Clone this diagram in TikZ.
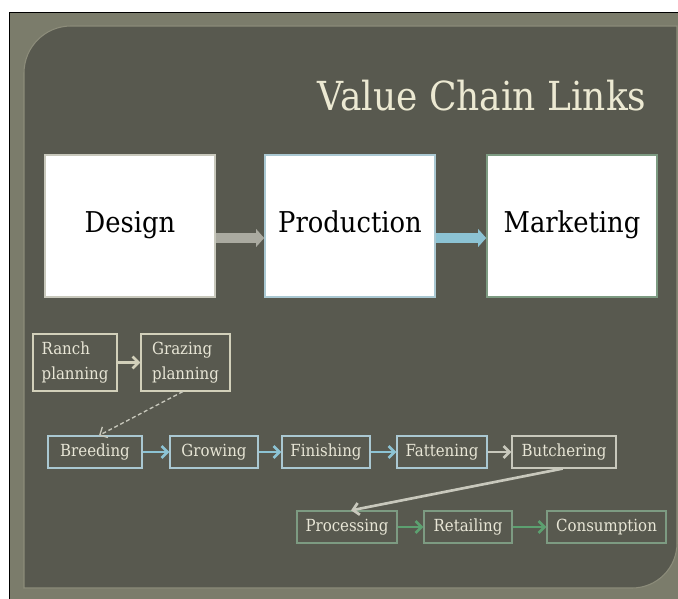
\documentclass[tikz,border=0pt]{standalone}
\usepackage{fontspec}
\setmainfont{DejaVu Serif Condensed}
\usetikzlibrary{arrows.meta}

\definecolor{framebg}{RGB}{123,124,107}
\definecolor{panelbg}{RGB}{88,89,79}
\definecolor{paneledge}{RGB}{140,140,122}
\definecolor{titlecol}{RGB}{236,233,210}
\definecolor{boxtext}{RGB}{232,230,214}
\definecolor{creamline}{RGB}{210,208,186}
\definecolor{blueline}{RGB}{170,200,210}
\definecolor{bluearrow}{RGB}{140,195,212}
\definecolor{greyline}{RGB}{200,200,188}
\definecolor{greenline}{RGB}{125,155,130}
\definecolor{greenarrow}{RGB}{92,160,112}

\tikzset{
  bigbox/.style={draw, fill=white, line width=1.2pt, minimum width=127.5pt, minimum height=106.5pt,
    inner sep=0pt, font=\fontsize{21.5}{24}\selectfont, text=black, text height=15pt, text depth=5pt},
  linkbox/.style={draw, line width=0.9pt, minimum height=24pt, inner sep=0pt,
    font=\fontsize{12.5}{19}\selectfont, text=boxtext, align=left},
  linkarrow/.style={line width=2pt, -{Straight Barb[length=4.5pt,width=9pt]}},
  blockarrow/.style={line width=7pt, -{Triangle[length=6pt,width=13pt]}},
}

\begin{document}
\begin{tikzpicture}[x=0.75pt,y=0.75pt,yscale=-1,xscale=1]
\useasboundingbox (0,0) rectangle (678,599);
\fill[white] (0,0) rectangle (678,599);

%Frame
\fill[framebg] (10,13) rectangle (678,599);
\draw[black, line width=1.2pt] (9.5,599) -- (9.5,12.5) -- (678,12.5);
%Panel
\filldraw[fill=panelbg, draw=paneledge, line width=0.8pt] (24,588) -- (24,73) .. controls (24,47) and (45,26) .. (71,26)
  -- (677,26) -- (677,543) .. controls (677,568) and (657,588) .. (632,588) -- cycle;

% Title
\node[text=titlecol, font=\fontsize{30}{33}\selectfont, anchor=base east] (title) at (651,111) {Value Chain Links};

% Big boxes
\node[bigbox, draw=greyline] (design) at (130,226) {Design};
\node[bigbox, draw=blueline] (production) at (350,226) {Production};
\node[bigbox, draw=greenline] (marketing) at (572,226) {Marketing};

\draw[blockarrow, draw=greyline!85!black, fill=greyline!85!black] ([yshift=9pt]design.east) -- ([yshift=9pt]production.west);
\draw[blockarrow, draw=bluearrow, fill=bluearrow] ([yshift=9pt]production.east) -- ([yshift=9pt]marketing.west);

% Planning boxes
\node[linkbox, draw=creamline, minimum width=63pt, minimum height=42.75pt] (ranch) at (75,362.5) {Ranch\\planning};
\node[linkbox, draw=creamline, minimum width=66.75pt, minimum height=42.75pt] (grazing) at (185.5,362.5) {Grazing\\planning};

% Raising boxes
\node[linkbox, draw=blueline, minimum width=70.5pt] (breeding) at (95,452) {Breeding};
\node[linkbox, draw=blueline, minimum width=66pt] (growing) at (214,452) {Growing};
\node[linkbox, draw=blueline, minimum width=66pt] (finishing) at (326,452) {Finishing};
\node[linkbox, draw=blueline, minimum width=67.5pt] (fattening) at (442,452) {Fattening};
\node[linkbox, draw=greyline, minimum width=78pt] (butchering) at (564,452) {Butchering};

% Selling boxes
\node[linkbox, draw=greenline, minimum width=75pt] (processing) at (347,527) {Processing};
\node[linkbox, draw=greenline, minimum width=66pt] (retailing) at (468,527) {Retailing};
\node[linkbox, draw=greenline, minimum width=89.25pt] (consumption) at (606.5,527) {Consumption};

% Links
\draw[linkarrow, draw=creamline] (ranch) -- (grazing);
\draw[line width=1pt, densely dashed, draw=greyline, -{Straight Barb[length=4.5pt,width=9pt]}] ([xshift=-2pt]grazing.south) -- ([xshift=3pt]breeding.north);
\draw[linkarrow, draw=bluearrow] (breeding) -- (growing);
\draw[linkarrow, draw=bluearrow] (growing) -- (finishing);
\draw[linkarrow, draw=bluearrow] (finishing) -- (fattening);
\draw[linkarrow, draw=greyline] (fattening) -- (butchering);
\draw[line width=2pt, draw=greyline, -{Straight Barb[length=4.5pt,width=9pt]}] ([xshift=-1pt]butchering.south) -- ([xshift=3pt]processing.north);
\draw[linkarrow, draw=greenarrow] (processing) -- (retailing);
\draw[linkarrow, draw=greenarrow] (retailing) -- (consumption);

\end{tikzpicture}
\end{document}
